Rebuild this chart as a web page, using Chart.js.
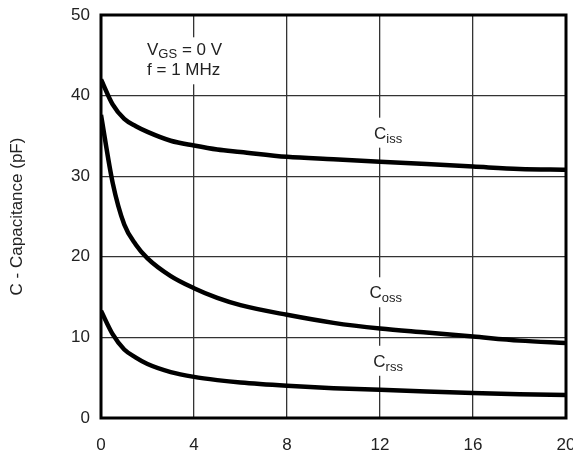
<!DOCTYPE html>
<html>
<head>
<meta charset="utf-8">
<script src="https://cdn.jsdelivr.net/npm/chart.js@4"></script>
<style>
  html, body { margin: 0; padding: 0; background: #fff; }
  #wrap { width: 573px; height: 455px; }
</style>
</head>
<body>
<div id="wrap"><canvas id="capChart" width="573" height="455"></canvas></div>
<script>
// V_DS (V) sample points
const vds = [0, 0.5, 1, 1.5, 2, 3, 4, 5, 6, 8, 10, 12, 14, 16, 18, 20];
// capacitances (pF)
const ciss = [42, 38.9, 37.1, 36.2, 35.5, 34.4, 33.8, 33.3, 33.0, 32.4, 32.1, 31.8, 31.5, 31.2, 30.9, 30.8];
const coss = [37.6, 29.2, 24, 21.5, 19.8, 17.6, 16.1, 14.9, 14.0, 12.8, 11.8, 11.1, 10.6, 10.1, 9.6, 9.3];
const crss = [13.3, 10.4, 8.5, 7.5, 6.7, 5.7, 5.1, 4.7, 4.4, 4.0, 3.7, 3.5, 3.3, 3.1, 2.95, 2.85];

const xTicks = [0, 4, 8, 12, 16, 20];
const yTicks = [0, 10, 20, 30, 40, 50];

const FONT = "'Liberation Sans', Arial, Helvetica, sans-serif";
const TXT = "#222";

function pts(ys) {
  return vds.map((x, i) => ({ x: x, y: ys[i] }));
}

function series(ys) {
  return {
    data: pts(ys),
    borderColor: "#000",
    borderWidth: 4.5,
    pointRadius: 0,
    fill: false,
    cubicInterpolationMode: "monotone",
  };
}

// curve names: [main, subscript, x value, y value]
const curveLabels = [
  ["C", "iss", 12.35, 35.4],
  ["C", "oss", 12.25, 15.6],
  ["C", "rss", 12.35, 7.1],
];

function drawSub(ctx, main, sub, cx, cy) {
  ctx.font = "17px " + FONT;
  const w1 = ctx.measureText(main).width;
  ctx.font = "13px " + FONT;
  const w2 = ctx.measureText(sub).width;
  const left = cx - (w1 + w2) / 2;
  ctx.fillStyle = TXT;
  ctx.textBaseline = "alphabetic";
  ctx.textAlign = "left";
  ctx.font = "17px " + FONT;
  ctx.fillText(main, left, cy + 6);
  ctx.font = "13px " + FONT;
  ctx.fillText(sub, left + w1, cy + 10);
}

const overlay = {
  id: "overlay",
  afterDatasetsDraw(chart) {
    const ctx = chart.ctx;
    const xs = chart.scales.x, ys = chart.scales.y;
    ctx.save();
    // white behind the names breaks the grid lines
    curveLabels.forEach(([m, s, xv, yv]) => {
      const cx = xs.getPixelForValue(xv);
      const cy = ys.getPixelForValue(yv);
      ctx.fillStyle = "#fff";
      ctx.fillRect(cx - 20, cy - 15, 40, 30);
      drawSub(ctx, m, s, cx, cy);
    });

    // test conditions
    const x0 = xs.getPixelForValue(1.98);
    const yb1 = ys.getPixelForValue(45.0);
    const yb2 = ys.getPixelForValue(42.6);
    ctx.fillStyle = "#fff";
    ctx.fillRect(x0 - 4, yb1 - 18, 92, 47);
    ctx.fillStyle = TXT;
    ctx.textAlign = "left";
    ctx.textBaseline = "alphabetic";
    ctx.font = "17px " + FONT;
    ctx.fillText("V", x0, yb1);
    const wv = ctx.measureText("V").width;
    ctx.font = "13px " + FONT;
    ctx.fillText("GS", x0 + wv, yb1 + 3);
    const wgs = ctx.measureText("GS").width;
    ctx.font = "17px " + FONT;
    ctx.fillText(" = 0 V", x0 + wv + wgs, yb1);
    ctx.fillText("f = 1 MHz", x0, yb2);

    // frame round the plot
    const a = chart.chartArea;
    ctx.strokeStyle = "#000";
    ctx.lineWidth = 3;
    ctx.strokeRect(a.left, a.top, a.right - a.left, a.bottom - a.top);
    ctx.restore();
  },
};

new Chart(document.getElementById("capChart"), {
  type: "line",
  data: {
    datasets: [series(ciss), series(coss), series(crss)],
  },
  options: {
    responsive: false,
    animation: false,
    events: [],
    layout: { padding: { top: 15, right: 7, left: 0, bottom: 0 } },
    plugins: { legend: { display: false }, tooltip: { enabled: false } },
    scales: {
      x: {
        type: "linear",
        min: 0,
        max: 20,
        afterBuildTicks(scale) {
          scale.ticks = xTicks.map((v) => ({ value: v }));
        },
        afterFit(scale) {
          scale.height = 37;
          scale.paddingLeft = 0;
          scale.paddingRight = 0;
        },
        grid: { color: "#333", lineWidth: 1.3, drawTicks: false },
        border: { display: false },
        ticks: { color: TXT, font: { family: FONT, size: 17 }, padding: 17, maxRotation: 0 },
      },
      y: {
        min: 0,
        max: 50,
        afterBuildTicks(scale) {
          scale.ticks = yTicks.map((v) => ({ value: v }));
        },
        afterFit(scale) {
          scale.width = 101;
          scale.paddingTop = 0;
          scale.paddingBottom = 0;
        },
        grid: { color: "#333", lineWidth: 1.3, drawTicks: false },
        border: { display: false },
        ticks: { color: TXT, font: { family: FONT, size: 17 }, padding: 11 },
        title: {
          display: true,
          text: "C - Capacitance (pF)",
          color: TXT,
          font: { family: FONT, size: 17 },
          padding: { top: 7, bottom: 0 },
        },
      },
    },
  },
  plugins: [overlay],
});
</script>
</body>
</html>
